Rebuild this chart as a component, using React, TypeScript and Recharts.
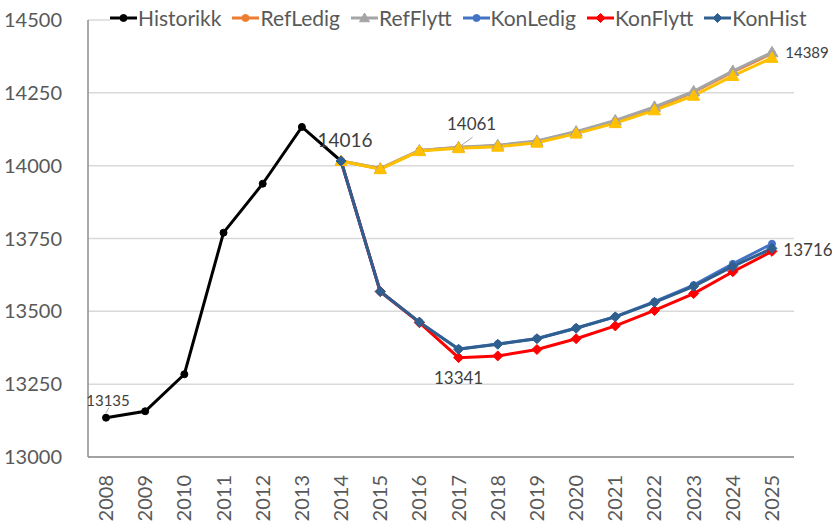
import React from 'react';
import {
  LineChart,
  Line,
  XAxis,
  YAxis,
  CartesianGrid,
} from 'recharts';

const years = ['2008', '2009', '2010', '2011', '2012', '2013', '2014', '2015', '2016', '2017', '2018', '2019', '2020', '2021', '2022', '2023', '2024', '2025'];

const historikk = [13135, 13157, 13284, 13770, 13938, 14133, 14016];
const refLedig = [14016, 13990, 14052, 14062, 14068, 14083, 14115, 14153, 14198, 14252, 14322, 14385];
const refFlytt = [14016, 13990, 14052, 14063, 14070, 14085, 14117, 14155, 14202, 14255, 14325, 14389];
const refGold = [14016, 13988, 14050, 14060, 14065, 14079, 14110, 14146, 14190, 14240, 14308, 14370];
const konLedig = [14016, 13568, 13463, 13371, 13388, 13407, 13443, 13482, 13533, 13590, 13663, 13732];
const konFlytt = [14016, 13568, 13461, 13341, 13347, 13369, 13406, 13450, 13503, 13561, 13636, 13706];
const konHist = [14016, 13568, 13463, 13370, 13387, 13406, 13442, 13481, 13531, 13586, 13654, 13716];

const yTicks = [13000, 13250, 13500, 13750, 14000, 14250, 14500];

const startIdx = 6; // 2014

const data = years.map((year, i) => {
  const j = i - startIdx;
  return {
    year,
    historikk: i < historikk.length ? historikk[i] : null,
    refLedig: j >= 0 ? refLedig[j] : null,
    refFlytt: j >= 0 ? refFlytt[j] : null,
    refGold: j >= 0 ? refGold[j] : null,
    konLedig: j >= 0 ? konLedig[j] : null,
    konFlytt: j >= 0 ? konFlytt[j] : null,
    konHist: j >= 0 ? konHist[j] : null,
  };
});

const FONT = 'Lato, "Open Sans", sans-serif';

const Triangle = ({ cx, cy, color, size = 6 }: any) => {
  if (cx == null || cy == null) return null;
  return (
    <path
      d={`M${cx},${cy - size} L${cx + size},${cy + size * 0.75} L${cx - size},${cy + size * 0.75} Z`}
      fill={color}
      stroke={color}
    />
  );
};

const Diamond = ({ cx, cy, color, size = 5 }: any) => {
  if (cx == null || cy == null) return null;
  return (
    <path
      d={`M${cx},${cy - size} L${cx + size},${cy} L${cx},${cy + size} L${cx - size},${cy} Z`}
      fill={color}
      stroke={color}
    />
  );
};

const Circle = ({ cx, cy, color, r = 3.5 }: any) => {
  if (cx == null || cy == null) return null;
  return <circle cx={cx} cy={cy} r={r} fill={color} stroke={color} />;
};

const dotFn = (Shape: any, color: string) => (props: any) => {
  const { key, cx, cy } = props;
  if (props.value == null) return <g key={key} />;
  return <Shape key={key} cx={cx} cy={cy} color={color} />;
};

// label only at one point, with optional leader line
const pointLabel =
  (at: number, text: string, dx: number, dy: number, size: number, leader?: number[]) =>
  (props: any) => {
    const { index, x, y } = props;
    if (index !== at || x == null || y == null) return <g key={`l-${index}`} />;
    return (
      <g key={`l-${index}`}>
        {leader && (
          <line
            x1={x + leader[0]}
            y1={y + leader[1]}
            x2={x + leader[2]}
            y2={y + leader[3]}
            stroke="#a6a6a6"
            strokeWidth={1}
          />
        )}
        <text x={x + dx} y={y + dy} fontSize={size} fill="#404040" fontFamily={FONT} textAnchor="middle">
          {text}
        </text>
      </g>
    );
  };

const legendItems = [
  { name: 'Historikk', color: '#000000', shape: 'circle' },
  { name: 'RefLedig', color: '#ED7D31', shape: 'circle' },
  { name: 'RefFlytt', color: '#A5A5A5', shape: 'triangle' },
  { name: 'KonLedig', color: '#4472C4', shape: 'circle' },
  { name: 'KonFlytt', color: '#FF0000', shape: 'diamond' },
  { name: 'KonHist', color: '#2F5F8F', shape: 'diamond' },
];

const CustomLegend = () => (
  <div
    style={{
      position: 'absolute',
      left: 110,
      top: 6,
      display: 'flex',
      fontFamily: FONT,
      fontSize: 21,
      color: '#595959',
      lineHeight: '24px',
      background: '#fff',
    }}
  >
    {legendItems.map((it) => (
      <div key={it.name} style={{ display: 'flex', alignItems: 'center', marginRight: 11 }}>
        <svg width={27} height={12} style={{ marginRight: 1 }}>
          <line x1={0} y1={6} x2={27} y2={6} stroke={it.color} strokeWidth={3} />
          {it.shape === 'circle' && <Circle cx={13.5} cy={6} color={it.color} />}
          {it.shape === 'triangle' && <Triangle cx={13.5} cy={6} color={it.color} size={5} />}
          {it.shape === 'diamond' && <Diamond cx={13.5} cy={6} color={it.color} size={4.5} />}
        </svg>
        <span>{it.name}</span>
      </div>
    ))}
  </div>
);

const App = () => {
  return (
    <div style={{ position: 'absolute', left: 0, top: 0, width: 832, height: 521, background: '#fff' }}>
      <LineChart
        width={832}
        height={521}
        data={data}
        margin={{ top: 20, right: 38, left: 0, bottom: 0 }}
      >
        <CartesianGrid vertical={false} stroke="#d9d9d9" strokeWidth={1.5} />
        <XAxis
          dataKey="year"
          height={64}
          interval={0}
          padding={{ left: 18, right: 22 }}
          tickLine={false}
          axisLine={{ stroke: '#8c8c8c', strokeWidth: 1.5 }}
          tick={(props: any) => (
            <text
              x={props.x}
              y={props.y}
              transform={`rotate(-90, ${props.x}, ${props.y})`}
              dx={-10}
              dy={7}
              textAnchor="end"
              fontSize={20}
              fill="#595959"
              fontFamily={FONT}
            >
              {props.payload.value}
            </text>
          )}
        />
        <YAxis
          width={88}
          domain={[13000, 14500]}
          ticks={yTicks}
          interval={0}
          tickLine={false}
          axisLine={{ stroke: '#8c8c8c', strokeWidth: 1.5 }}
          tickMargin={20}
          tick={{ fontSize: 20, fill: '#595959', fontFamily: FONT }}
        />
        <Line
          dataKey="historikk"
          stroke="#000000"
          strokeWidth={3}
          dot={dotFn(Circle, '#000000')}
          isAnimationActive={false}
          label={pointLabel(0, '13135', 2, -12, 15, [0, -5, 3, -10])}
        />
        <Line
          dataKey="refLedig"
          stroke="#ED7D31"
          strokeWidth={3}
          dot={dotFn(Circle, '#ED7D31')}
          isAnimationActive={false}
        />
        <Line
          dataKey="refFlytt"
          stroke="#A5A5A5"
          strokeWidth={3}
          dot={dotFn(Triangle, '#A5A5A5')}
          isAnimationActive={false}
          label={pointLabel(17, '14389', 35, 6, 15)}
        />
        <Line
          dataKey="refGold"
          stroke="#FFC000"
          strokeWidth={3}
          dot={dotFn(Triangle, '#FFC000')}
          isAnimationActive={false}
          legendType="none"
          label={pointLabel(9, '14061', 13, -18, 17, [3, -3, 14, -11])}
        />
        <Line
          dataKey="konLedig"
          stroke="#4472C4"
          strokeWidth={3}
          dot={dotFn(Circle, '#4472C4')}
          isAnimationActive={false}
        />
        <Line
          dataKey="konFlytt"
          stroke="#FF0000"
          strokeWidth={3}
          dot={dotFn(Diamond, '#FF0000')}
          isAnimationActive={false}
          label={pointLabel(9, '13341', 0, 26, 17)}
        />
        <Line
          dataKey="konHist"
          stroke="#2F5F8F"
          strokeWidth={3}
          dot={dotFn(Diamond, '#2F5F8F')}
          isAnimationActive={false}
          label={pointLabel(17, '13716', 36, 8, 17)}
        />
        <Line
          dataKey="historikk"
          stroke="none"
          dot={false}
          isAnimationActive={false}
          legendType="none"
          label={pointLabel(6, '14016', 4, -14, 19)}
        />
      </LineChart>
      <CustomLegend />
    </div>
  );
};

export default App;
